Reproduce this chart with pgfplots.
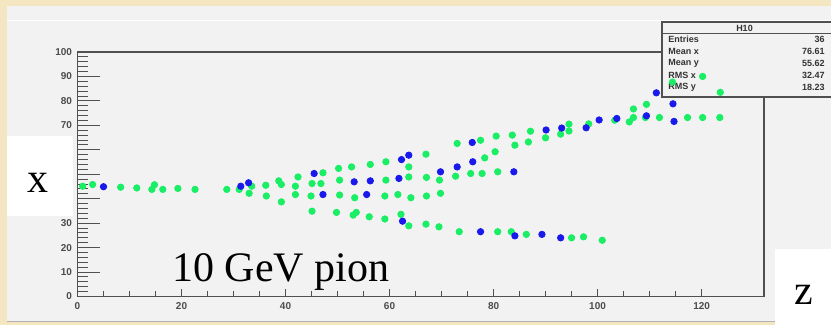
\documentclass[border=0pt]{standalone}
\usepackage{pgfplots}
\usepackage{pgfplotstable}
\pgfplotsset{compat=1.18}
\usepackage{fontspec}
\setmainfont{Liberation Serif}
\setsansfont{Liberation Sans}
\definecolor{beige}{RGB}{244,230,192}
\definecolor{panel}{RGB}{242,242,242}
\definecolor{ptgreen}{RGB}{25,238,100}
\definecolor{ptblue}{RGB}{25,25,235}
\definecolor{frame}{RGB}{80,80,80}

\pgfplotstableread{
x y
1.0 45.1
2.9 45.8
8.3 44.7
11.4 44.4
14.8 45.7
14.3 43.8
16.4 43.8
19.3 44.2
22.6 43.8
28.7 43.8
31.1 43.8
33.5 45.1
33.0 42.2
36.2 45.5
36.3 41.1
38.7 47.3
39.2 45.8
39.2 38.7
42.4 48.9
41.9 45.1
41.9 41.7
47.2 50.6
45.1 46.2
46.8 46.2
44.9 41.1
45.1 34.9
50.2 52.4
52.7 53.0
56.3 54.0
59.3 55.1
67.0 58.2
63.7 53.0
50.4 47.6
59.3 47.6
63.7 48.9
67.1 48.7
69.6 47.6
50.4 41.5
53.3 40.4
59.1 41.1
61.6 41.7
64.1 40.4
67.1 41.1
69.8 42.2
49.8 34.4
53.0 33.3
53.6 34.4
56.1 32.6
59.1 31.7
62.2 33.6
63.7 28.9
67.0 29.6
69.5 28.5
73.0 62.6
77.5 63.9
80.5 65.6
83.6 66.0
87.1 67.6
94.5 70.5
94.5 67.7
84.1 61.9
86.7 63.2
90.0 64.9
92.9 66.4
80.3 59.2
78.3 56.7
72.7 49.2
75.6 50.3
77.8 50.3
80.8 51.0
73.4 26.5
80.8 26.5
83.4 26.5
86.3 25.4
95.0 24.0
97.3 24.4
100.9 23.0
98.3 70.6
103.3 72.1
106.1 71.4
106.9 73.2
106.9 76.7
109.2 73.2
109.4 78.6
111.9 73.2
114.4 87.7
120.2 90.0
123.6 83.5
117.3 73.2
120.2 73.2
123.5 73.2
}\greendata

\pgfplotstableread{
x y
5.0 44.9
31.4 45.1
32.9 46.5
45.5 50.3
47.2 41.7
62.3 56.0
63.7 57.8
53.2 46.9
56.3 47.3
61.8 48.3
69.8 51.0
55.6 41.7
62.5 30.8
75.9 63.0
90.1 68.1
93.1 68.9
76.0 55.1
73.0 53.0
83.9 51.0
77.5 26.5
84.1 24.8
89.3 25.4
92.9 24.0
97.8 69.0
100.3 72.2
103.7 72.8
109.4 73.9
111.3 83.3
114.5 78.8
114.7 71.6
}\bluedata

\pgfplotsset{
  rootframe/.style={
    at={(38.75pt,-148.25pt)}, anchor=south west,
    scale only axis, width=343.25pt, height=122.25pt,
    xmin=0, xmax=132, ymin=0, ymax=100,
    axis line style={draw=frame, line width=0.8pt},
    tick align=inside, tick pos=left,
    every tick/.style={draw=frame, line width=0.45pt},
    /pgf/number format/assume math mode=true,
    tick label style={font=\sffamily\bfseries\fontsize{5}{6}\selectfont, text=black!70},
  }
}

\begin{document}
\begin{tikzpicture}
\useasboundingbox (0pt,0pt) rectangle (415.5pt,-162.5pt);
\clip (0pt,0pt) rectangle (415.5pt,-162.5pt);
\begin{scope}[x=0.5pt,y=-0.5pt]
\fill[beige] (0,0) rectangle (831,325);
\fill[panel] (7,6) rectangle (831,322);
\draw[white, line width=0.6pt] (7,20.5) -- (831,20.5);
\draw[gray!60, line width=0.5pt] (7,321.7) -- (831,321.7);
\end{scope}

% y ticks
\begin{axis}[rootframe,
  xtick=\empty, ytick={0,10,...,100}, minor y tick num=4,
  major tick length=11pt, minor tick length=5.5pt,
  yticklabel style={xshift=0.8pt},
]
\end{axis}
% x ticks
\begin{axis}[rootframe,
  ytick=\empty, xtick={0,20,...,120}, minor x tick num=3,
  major tick length=3.5pt, minor tick length=2.5pt,
  xticklabel style={yshift=0.5pt},
]
\end{axis}

% stats box
\begin{scope}[x=0.5pt,y=-0.5pt]
\filldraw[fill=panel, draw=frame, line width=0.6pt] (662,22) rectangle (845,97);
\draw[frame, line width=1.1pt] (662,97) -- (845,97);
\draw[frame, line width=0.6pt] (662,33.5) -- (845,33.5);
\begin{scope}[every node/.style={font=\sffamily\bfseries\fontsize{4.5}{5}\selectfont, text=black!80, inner sep=0pt}]
\node at (744.5,28) {H10};
\node[anchor=west] at (668,39.5) {Entries};
\node[anchor=west] at (668,51.5) {Mean x};
\node[anchor=west] at (668,63) {Mean y};
\node[anchor=west] at (668,75) {RMS x};
\node[anchor=west] at (668,87) {RMS y};
\node[anchor=east] at (825,39.5) {36};
\node[anchor=east] at (825,51.5) {76.61};
\node[anchor=east] at (825,63) {55.62};
\node[anchor=east] at (825,75) {32.47};
\node[anchor=east] at (825,87) {18.23};
\end{scope}
\end{scope}

% data
\begin{axis}[
  at={(38.75pt,-148.25pt)}, anchor=south west,
  scale only axis, width=343.25pt, height=122.25pt,
  xmin=0, xmax=132, ymin=0, ymax=100,
  hide axis, clip=false,
]
\addplot[ptgreen, only marks, mark=*, mark size=1.6pt, mark options={solid, draw=ptgreen, fill=ptgreen}] table[x=x,y=y] {\greendata};
\addplot[ptblue, only marks, mark=*, mark size=1.6pt, mark options={solid, draw=ptblue, fill=ptblue}] table[x=x,y=y] {\bluedata};
\end{axis}

\begin{scope}[x=0.5pt,y=-0.5pt]
\fill[white] (7,136) rectangle (73,216);
\node[anchor=base, inner sep=0pt, font=\fontsize{21}{21}\selectfont] at (37.5,193) {x};
\fill[white] (775,249) rectangle (831,325);
\node[anchor=base, inner sep=0pt, font=\fontsize{21}{21}\selectfont] at (803.7,305) {z};
\node[anchor=base west, inner sep=0pt, font=\fontsize{21}{21}\selectfont] at (172,281.5) {10 GeV pion};
\end{scope}
\end{tikzpicture}
\end{document}
